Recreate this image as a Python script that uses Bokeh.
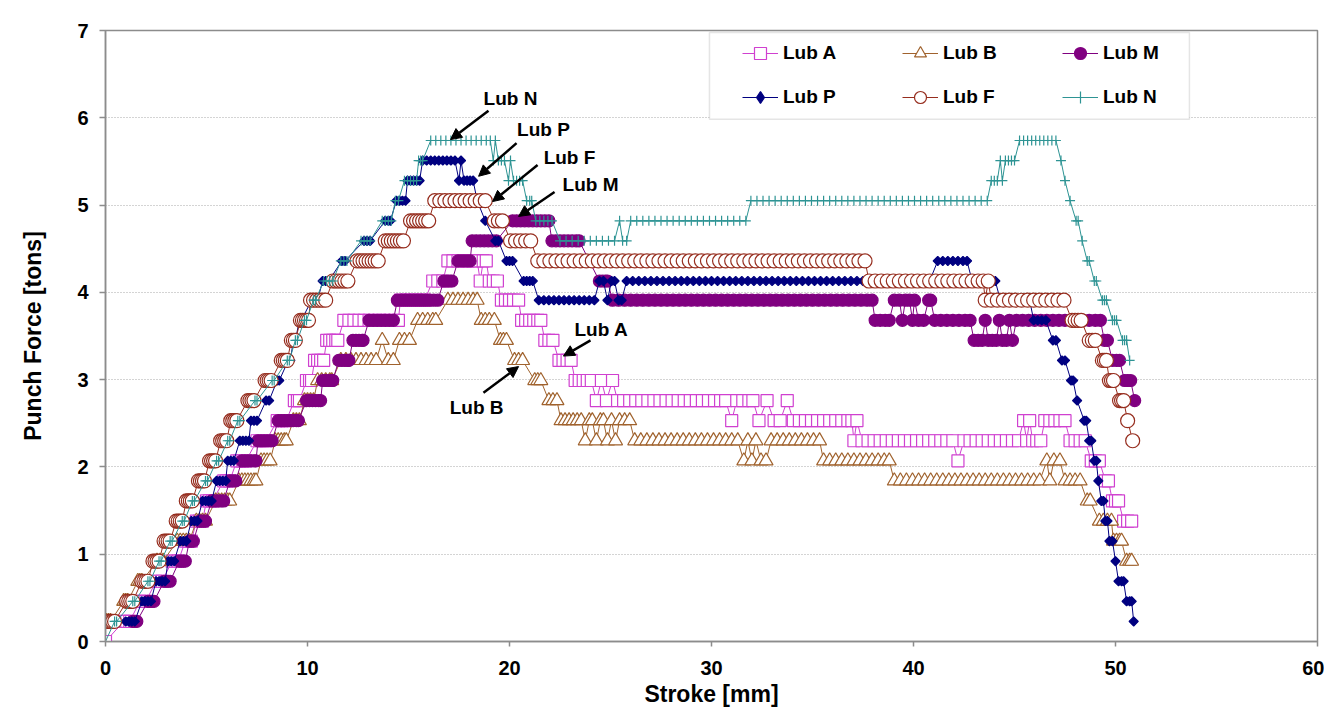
from math import pi
from bokeh.plotting import figure
from bokeh.models import (Range1d, FixedTicker, Legend, LegendItem, BoxAnnotation,
                          Label, Arrow, NormalHead)
from bokeh.embed import file_html
from bokeh.resources import INLINE

FONT = "Liberation Sans"

# Each series: runs of (punch force [tons], [stroke readings in mm at that force])
lub_a = [
    (0.00, [0.0]),
    (0.23, [0.9, 1.05, 1.2]),
    (0.46, [1.7, 1.85, 2.0]),
    (0.69, [2.5, 2.65, 2.8]),
    (0.92, [3.3, 3.45, 3.6]),
    (1.15, [3.95, 4.1, 4.25]),
    (1.38, [4.5, 4.65, 4.8]),
    (1.61, [5.0, 5.15, 5.3]),
    (1.84, [5.85, 6.0, 6.15]),
    (2.07, [6.5, 6.65, 6.8, 6.95]),
    (2.30, [7.5, 7.65, 7.8, 7.95]),
    (2.53, [8.5, 8.65, 8.8, 8.95]),
    (2.76, [9.35, 9.5, 9.6]),
    (2.99, [9.95, 10.1, 10.2]),
    (3.22, [10.35, 10.5, 10.65, 10.8]),
    (3.45, [10.95, 11.1, 11.25, 11.4, 11.5]),
    (3.68, [11.8, 12.05, 12.3, 12.55, 12.8, 13.05, 13.3, 13.55, 13.8, 14.05, 14.3, 14.5]),
    (3.91, [14.6, 14.85, 15.1, 15.35, 15.6, 15.8]),
    (4.13, [16.2, 16.45, 16.7]),
    (4.36, [16.95, 17.2, 17.45, 17.7, 17.95, 18.2, 18.4]),
    (4.13, [18.55]),
    (4.36, [18.7, 18.85]),
    (4.13, [19.0, 19.2, 19.4]),
    (3.91, [19.6, 19.8, 20.0, 20.2, 20.45]),
    (3.68, [20.6, 20.8, 21.0, 21.2, 21.4, 21.55]),
    (3.45, [21.75, 21.95, 22.15]),
    (3.22, [22.45, 22.65, 22.85, 23.05]),
    (2.99, [23.25, 23.45, 23.65, 23.85, 24.05]),
    (2.76, [24.3]),
    (2.99, [24.55]),
    (2.76, [24.8]),
    (2.99, [25.1]),
    (2.76, [25.35, 25.65, 25.95, 26.25, 26.55, 26.85, 27.15, 27.45, 27.75, 28.05, 28.35,
            28.65, 28.95, 29.25, 29.55, 29.85, 30.15, 30.45, 30.7]),
    (2.53, [31.0]),
    (2.76, [31.25, 31.55, 31.85, 32.05]),
    (2.53, [32.35]),
    (2.76, [32.75]),
    (2.53, [33.1, 33.4]),
    (2.76, [33.75]),
    (2.53, [34.05, 34.35, 34.65, 34.95, 35.25, 35.55, 35.85, 36.15, 36.45, 36.75, 36.95]),
    (2.30, [37.05]),
    (2.53, [37.2]),
    (2.30, [37.45, 37.75, 38.05, 38.35, 38.65, 38.95, 39.25, 39.55, 39.85, 40.15, 40.45,
            40.75, 41.05, 41.35, 41.65, 41.95]),
    (2.07, [42.2]),
    (2.30, [42.5, 42.8, 43.1, 43.4, 43.7, 44.0, 44.3, 44.6, 44.9, 45.2]),
    (2.53, [45.45]),
    (2.30, [45.6]),
    (2.53, [45.75]),
    (2.30, [45.9, 46.1, 46.3]),
    (2.53, [46.5, 46.75, 47.0, 47.25, 47.5]),
    (2.30, [47.75, 48.0, 48.25, 48.5]),
    (2.07, [48.8, 49.0, 49.2]),
    (1.84, [49.5, 49.65]),
    (1.61, [49.85, 50.0, 50.15]),
    (1.38, [50.4, 50.6, 50.8]),
]

lub_b = [
    (0.23, [0.05, 0.15, 0.25]),
    (0.46, [0.9, 1.0, 1.1]),
    (0.69, [1.6, 1.7, 1.8]),
    (0.92, [2.55, 2.7, 2.85]),
    (1.15, [3.55, 3.7, 3.85, 4.0, 4.15]),
    (1.38, [4.5, 4.65, 4.8, 4.95]),
    (1.61, [5.45, 5.6, 5.75, 5.9, 6.05, 6.15]),
    (1.84, [6.6, 6.75, 6.9, 7.05, 7.2, 7.35, 7.45]),
    (2.07, [7.7, 7.85, 8.0, 8.15]),
    (2.30, [8.4, 8.55, 8.7, 8.85, 8.95]),
    (2.53, [9.3, 9.45, 9.6]),
    (2.76, [9.85, 10.0, 10.15, 10.3]),
    (2.99, [10.5, 10.7, 10.9, 11.1, 11.2]),
    (3.22, [11.65, 11.9, 12.15, 12.4, 12.65, 12.9, 13.15, 13.4]),
    (3.45, [13.7]),
    (3.22, [14.0, 14.25]),
    (3.45, [14.55, 14.8, 15.05]),
    (3.68, [15.45, 15.7, 15.95, 16.2, 16.35]),
    (3.91, [16.95, 17.2, 17.45, 17.7, 17.95, 18.2, 18.4]),
    (3.68, [18.6, 18.8, 19.0, 19.25]),
    (3.45, [19.55, 19.7, 19.85]),
    (3.22, [20.25, 20.45, 20.65]),
    (2.99, [21.25, 21.4, 21.55]),
    (2.76, [21.95, 22.15, 22.35]),
    (2.53, [22.55, 22.75, 22.95, 23.15, 23.35, 23.55]),
    (2.30, [23.75]),
    (2.53, [23.95, 24.1]),
    (2.30, [24.3]),
    (2.53, [24.5, 24.65]),
    (2.30, [24.85]),
    (2.53, [25.05]),
    (2.30, [25.25]),
    (2.53, [25.45, 25.7, 25.95]),
    (2.30, [26.2, 26.5, 26.8, 27.1, 27.4, 27.7, 28.0, 28.3, 28.6, 28.9, 29.2, 29.5, 29.8,
            30.1, 30.4, 30.7, 31.0, 31.3]),
    (2.07, [31.6]),
    (2.30, [31.8]),
    (2.07, [32.0]),
    (2.30, [32.2]),
    (2.07, [32.45, 32.7]),
    (2.30, [32.95, 33.25, 33.55, 33.85, 34.15, 34.45, 34.75, 35.05, 35.35]),
    (2.07, [35.55, 35.85, 36.15, 36.45, 36.75, 37.05, 37.35, 37.65, 37.95, 38.25, 38.55, 38.8]),
    (1.84, [39.05, 39.35, 39.65, 39.95, 40.25, 40.55, 40.85, 41.15, 41.45, 41.75, 42.05,
            42.35, 42.65, 42.95, 43.25, 43.55, 43.85, 44.15, 44.45, 44.75, 45.05, 45.35,
            45.65, 45.95, 46.25]),
    (2.07, [46.6]),
    (1.84, [46.75]),
    (2.07, [46.95, 47.25]),
    (1.84, [47.5, 47.75, 48.0, 48.25]),
    (1.61, [48.6, 48.75]),
    (1.38, [49.2, 49.4, 49.6, 49.8]),
    (1.15, [49.9, 50.05, 50.2, 50.3]),
    (0.92, [50.55, 50.7, 50.8]),
]

lub_m = [
    (0.23, [1.35, 1.45, 1.55]),
    (0.46, [2.1, 2.2, 2.3, 2.4]),
    (0.69, [2.9, 3.0, 3.1, 3.2]),
    (0.92, [3.65, 3.75, 3.85, 3.95]),
    (1.15, [4.15, 4.25, 4.35]),
    (1.38, [4.65, 4.75, 4.85, 4.95]),
    (1.61, [5.25, 5.4, 5.55, 5.7, 5.85]),
    (1.84, [6.15, 6.3, 6.45]),
    (2.07, [6.75, 6.9, 7.05, 7.2, 7.35, 7.45]),
    (2.30, [7.55, 7.7, 7.85, 8.0, 8.15, 8.25]),
    (2.53, [8.55, 8.7, 8.85, 9.0, 9.15, 9.3, 9.45, 9.55]),
    (2.76, [9.95, 10.1, 10.25, 10.4, 10.55, 10.65]),
    (2.99, [10.75, 10.9, 11.05, 11.2, 11.25]),
    (3.22, [11.55, 11.7, 11.85, 12.0, 12.05]),
    (3.45, [12.25, 12.4, 12.55, 12.7, 12.75]),
    (3.68, [13.05, 13.25, 13.45, 13.65, 13.85, 14.05, 14.25]),
    (3.91, [14.45, 14.65, 14.85, 15.05, 15.25, 15.45, 15.65, 15.85, 16.05, 16.25, 16.45]),
    (4.13, [16.75, 16.9, 17.05, 17.15]),
    (4.36, [17.45, 17.6, 17.75, 17.9, 18.05]),
    (4.59, [18.15, 18.35, 18.55, 18.75, 18.95, 19.15, 19.35]),
    (4.82, [20.15, 20.35, 20.55, 20.75, 20.95, 21.15, 21.35, 21.55, 21.75, 21.95]),
    (4.59, [22.1, 22.3, 22.5, 22.7, 22.9, 23.1, 23.3, 23.45]),
    (4.36, [23.95]),
    (4.13, [24.45, 24.6, 24.75, 24.85]),
    (3.91, [25.1, 25.4, 25.7, 26.0, 26.3, 26.6, 26.9, 27.2, 27.5, 27.8, 28.1, 28.4, 28.7,
            29.0, 29.3, 29.6, 29.9, 30.2, 30.5, 30.8, 31.1, 31.4, 31.7, 32.0, 32.3, 32.6,
            32.9, 33.2, 33.5, 33.8, 34.1, 34.4, 34.7, 35.0, 35.3, 35.6, 35.9, 36.2, 36.5,
            36.8, 37.1, 37.4, 37.7, 37.95]),
    (3.68, [38.1, 38.35, 38.6, 38.8]),
    (3.91, [39.05, 39.3]),
    (3.68, [39.45]),
    (3.91, [39.6, 39.8]),
    (3.68, [39.95]),
    (3.91, [40.05]),
    (3.68, [40.25, 40.5]),
    (3.91, [40.75, 40.85]),
    (3.68, [41.05, 41.35, 41.65, 41.95, 42.25, 42.55, 42.8]),
    (3.45, [43.0, 43.2, 43.4]),
    (3.68, [43.55]),
    (3.45, [43.7, 43.9, 44.1]),
    (3.68, [44.25]),
    (3.45, [44.4, 44.6]),
    (3.68, [44.75]),
    (3.45, [44.9]),
    (3.68, [45.1, 45.4, 45.7, 46.0, 46.3, 46.6, 46.9, 47.2, 47.5, 47.8, 48.1, 48.4, 48.7,
            49.0, 49.25]),
    (3.45, [49.45, 49.6]),
    (3.22, [49.85, 50.05, 50.2]),
    (2.99, [50.45, 50.6, 50.75]),
    (2.76, [50.95]),
]

lub_p = [
    (0.23, [1.0, 1.15, 1.3, 1.45]),
    (0.46, [1.8, 1.95, 2.1, 2.25]),
    (0.69, [2.5, 2.65, 2.8, 2.95]),
    (0.92, [3.1, 3.25, 3.4]),
    (1.15, [3.7, 3.85, 4.0]),
    (1.38, [4.25, 4.4, 4.55]),
    (1.61, [4.8, 4.95, 5.1, 5.25]),
    (1.84, [5.5, 5.65, 5.8, 5.95]),
    (2.07, [6.05, 6.2, 6.35]),
    (2.30, [6.65, 6.8, 6.95, 7.1]),
    (2.53, [7.2, 7.35, 7.5]),
    (2.76, [7.95, 8.1]),
    (2.99, [8.5, 8.6]),
    (3.22, [9.05, 9.15]),
    (3.45, [9.3, 9.4]),
    (3.68, [9.6, 9.7]),
    (3.91, [10.2, 10.35, 10.5]),
    (4.13, [10.75, 10.9, 11.05]),
    (4.36, [11.7, 11.85]),
    (4.59, [12.8, 12.95, 13.1]),
    (4.82, [13.85, 14.0, 14.1]),
    (5.05, [14.4, 14.55, 14.7, 14.85]),
    (5.28, [14.95, 15.1, 15.25, 15.4, 15.55]),
    (5.51, [15.7, 15.9, 16.1, 16.3, 16.5, 16.7, 16.9, 17.1, 17.3]),
    (5.28, [17.5]),
    (5.51, [17.6]),
    (5.28, [17.75, 17.9, 18.05, 18.2]),
    (5.05, [18.4]),
    (4.82, [18.8]),
    (4.59, [19.3, 19.45]),
    (4.36, [19.85, 20.0, 20.15]),
    (4.13, [20.7, 20.85, 21.0, 21.15]),
    (3.91, [21.45, 21.7, 21.95, 22.2, 22.45, 22.7, 22.95, 23.2, 23.45, 23.7, 23.95, 24.2]),
    (4.13, [24.45, 24.65]),
    (3.91, [24.85]),
    (4.13, [25.05, 25.2]),
    (3.91, [25.4, 25.55]),
    (4.13, [25.8, 26.1, 26.4, 26.7, 27.0, 27.3, 27.6, 27.9, 28.2, 28.5, 28.8, 29.1, 29.4,
            29.7, 30.0, 30.3, 30.6, 30.9, 31.2, 31.5, 31.8, 32.1, 32.4, 32.7, 33.0, 33.3,
            33.6, 33.9, 34.2, 34.5, 34.8, 35.1, 35.4, 35.7, 36.0, 36.3, 36.6, 36.9, 37.2,
            37.5, 37.8, 38.1, 38.4, 38.7, 39.0, 39.3, 39.6, 39.9, 40.2, 40.5, 40.8]),
    (4.36, [41.2, 41.45, 41.7, 41.95, 42.2, 42.45, 42.65]),
    (4.13, [42.9, 43.2, 43.5, 43.8, 44.05]),
    (3.91, [44.3, 44.6, 44.9, 45.2, 45.5, 45.75]),
    (3.68, [45.95, 46.15, 46.35, 46.55]),
    (3.45, [46.9, 47.05]),
    (3.22, [47.35, 47.5]),
    (2.99, [47.8, 47.9]),
    (2.76, [48.1]),
    (2.53, [48.45, 48.55]),
    (2.30, [48.7, 48.8]),
    (2.07, [48.95, 49.05]),
    (1.84, [49.15]),
    (1.61, [49.3, 49.4]),
    (1.38, [49.5, 49.6]),
    (1.15, [49.7, 49.85]),
    (0.92, [50.0]),
    (0.69, [50.15, 50.3, 50.4]),
    (0.46, [50.55, 50.7, 50.8]),
    (0.23, [50.9]),
]

lub_f = [
    (0.23, [0.15, 0.25, 0.35, 0.45]),
    (0.46, [1.05, 1.15, 1.25, 1.35]),
    (0.69, [1.8, 1.9, 2.0, 2.1]),
    (0.92, [2.35, 2.45, 2.55, 2.65]),
    (1.15, [2.9, 3.0, 3.1, 3.2]),
    (1.38, [3.5, 3.6, 3.7, 3.8]),
    (1.61, [4.0, 4.1, 4.2, 4.3]),
    (1.84, [4.6, 4.7, 4.8, 4.9]),
    (2.07, [5.15, 5.25, 5.35, 5.45]),
    (2.30, [5.7, 5.8, 5.9, 6.0]),
    (2.53, [6.2, 6.3, 6.4, 6.5]),
    (2.76, [7.05, 7.15, 7.25, 7.35]),
    (2.99, [7.9, 8.0, 8.1, 8.2]),
    (3.22, [8.7, 8.8, 8.9, 9.0]),
    (3.45, [9.2, 9.3, 9.4]),
    (3.68, [9.65, 9.75, 9.85, 9.95, 10.05]),
    (3.91, [10.15, 10.3, 10.45, 10.6, 10.75, 10.9]),
    (4.13, [11.25, 11.4, 11.55, 11.7, 11.85, 12.0]),
    (4.36, [12.45, 12.6, 12.75, 12.9, 13.05, 13.2, 13.35, 13.5]),
    (4.59, [13.85, 14.0, 14.15, 14.3, 14.45, 14.6, 14.75]),
    (4.82, [15.1, 15.25, 15.4, 15.55, 15.7, 15.85, 16.0]),
    (5.05, [16.3, 16.55, 16.8, 17.05, 17.3, 17.55, 17.8, 18.05, 18.3, 18.55, 18.8]),
    (4.82, [19.25, 19.45, 19.65]),
    (4.59, [20.05, 20.3, 20.55, 20.8, 21.05]),
    (4.36, [21.4, 21.7, 22.0, 22.3, 22.6, 22.9, 23.2, 23.5, 23.8, 24.1, 24.4, 24.7, 25.0,
            25.3, 25.6, 25.9, 26.2, 26.5, 26.8, 27.1, 27.4, 27.7, 28.0, 28.3, 28.6, 28.9,
            29.2, 29.5, 29.8, 30.1, 30.4, 30.7, 31.0, 31.3, 31.6, 31.9, 32.2, 32.5, 32.8,
            33.1, 33.4, 33.7, 34.0, 34.3, 34.6, 34.9, 35.2, 35.5, 35.8, 36.1, 36.4, 36.7,
            37.0, 37.3, 37.6]),
    (4.13, [37.8, 38.1, 38.4, 38.7, 39.0, 39.3, 39.6, 39.9, 40.2, 40.5, 40.8, 41.1, 41.4,
            41.7, 42.0, 42.3, 42.6, 42.9, 43.2, 43.45]),
    (3.91, [43.55]),
    (4.13, [43.7]),
    (3.91, [43.85, 44.15, 44.45, 44.75, 45.05, 45.35, 45.65, 45.95, 46.25, 46.55, 46.85,
            47.15, 47.45]),
    (3.68, [47.85, 48.0, 48.15, 48.3]),
    (3.45, [48.7, 48.85, 49.0]),
    (3.22, [49.35, 49.45, 49.55]),
    (2.99, [49.7, 49.8, 49.9]),
    (2.76, [50.2, 50.3, 50.4]),
    (2.53, [50.6]),
    (2.30, [50.85]),
]

lub_n = [
    (0.00, [0.0]),
    (0.23, [0.45, 0.55]),
    (0.46, [1.35, 1.45]),
    (0.69, [2.1, 2.2]),
    (0.92, [2.65, 2.75]),
    (1.15, [3.2, 3.3]),
    (1.38, [3.8, 3.9]),
    (1.61, [4.3, 4.4]),
    (1.84, [4.95, 5.05]),
    (2.07, [5.5, 5.6]),
    (2.30, [6.05, 6.15]),
    (2.53, [6.55, 6.65]),
    (2.76, [7.4, 7.5]),
    (2.99, [8.25, 8.35]),
    (3.22, [9.0, 9.1]),
    (3.45, [9.4, 9.5]),
    (3.68, [9.85, 9.95]),
    (3.91, [10.3, 10.4]),
    (4.13, [10.8, 10.95, 11.1, 11.25]),
    (4.36, [11.65, 11.8, 11.95]),
    (4.59, [12.65, 12.8, 12.95, 13.1]),
    (4.82, [13.7, 13.85, 14.0, 14.15]),
    (5.05, [14.35, 14.5]),
    (5.28, [14.8, 14.95, 15.1, 15.25, 15.4]),
    (5.51, [15.5, 15.6, 15.7]),
    (5.74, [16.1, 16.35, 16.6, 16.85, 17.1, 17.35, 17.6, 17.85, 18.1, 18.35, 18.6, 18.85, 19.05]),
    (5.51, [19.2]),
    (5.74, [19.3]),
    (5.51, [19.45, 19.6, 19.75]),
    (5.28, [19.95]),
    (5.51, [20.05]),
    (5.28, [20.2, 20.35, 20.5, 20.65]),
    (5.05, [20.85, 21.0, 21.1]),
    (4.82, [21.3, 21.5, 21.7, 21.9, 22.1]),
    (4.59, [22.5, 22.8, 23.1, 23.4, 23.7, 24.0, 24.3, 24.6, 24.9, 25.2]),
    (4.82, [25.45]),
    (4.59, [25.6, 25.8]),
    (4.82, [26.0, 26.3, 26.6, 26.9, 27.2, 27.5, 27.8, 28.1, 28.4, 28.7, 29.0, 29.3, 29.6,
            29.9, 30.2, 30.5, 30.8, 31.1, 31.4, 31.7]),
    (5.05, [31.95, 32.25, 32.55, 32.85, 33.15, 33.45, 33.75, 34.05, 34.35, 34.65, 34.95,
            35.25, 35.55, 35.85, 36.15, 36.45, 36.75, 37.05, 37.35, 37.65, 37.95, 38.25,
            38.55, 38.85, 39.15, 39.45, 39.75, 40.05, 40.35, 40.65, 40.95, 41.25, 41.55,
            41.85, 42.15, 42.45, 42.75, 43.05, 43.35, 43.65]),
    (5.28, [43.85, 44.0, 44.15]),
    (5.51, [44.3]),
    (5.28, [44.4]),
    (5.51, [44.55, 44.7, 44.85, 45.0]),
    (5.74, [45.25, 45.45, 45.65, 45.85, 46.05, 46.25, 46.45, 46.65, 46.85, 47.05]),
    (5.51, [47.3]),
    (5.28, [47.5]),
    (5.05, [47.75]),
    (4.82, [48.05, 48.15]),
    (4.59, [48.35]),
    (4.36, [48.6, 48.7]),
    (4.13, [48.95, 49.05]),
    (3.91, [49.35, 49.45, 49.55]),
    (3.68, [49.85, 49.95, 50.05]),
    (3.45, [50.35, 50.45, 50.55]),
    (3.22, [50.7]),
]

x_ticks = [0, 10, 20, 30, 40, 50, 60]
y_ticks = [0, 1, 2, 3, 4, 5, 6, 7]


def expand(runs):
    xs, ys = [], []
    for force, strokes in runs:
        for s in strokes:
            xs.append(s)
            ys.append(force)
    return xs, ys


p = figure(width=1324, height=709, x_range=Range1d(0, 60), y_range=Range1d(0, 7),
           output_backend="svg", toolbar_location=None,
           min_border_left=105, min_border_right=7, min_border_top=30, min_border_bottom=67)
p.background_fill_color = "white"
p.border_fill_color = "white"
p.outline_line_color = "#8c8c8c"
p.outline_line_width = 1.5

p.xgrid.visible = False
p.ygrid.grid_line_color = "#a8a8a8"
p.ygrid.grid_line_dash = "1 2"
p.ygrid.grid_line_width = 1

p.xaxis.ticker = FixedTicker(ticks=x_ticks)
p.yaxis.ticker = FixedTicker(ticks=y_ticks)
for ax in (p.xaxis[0], p.yaxis[0]):
    ax.axis_line_color = "#8c8c8c"
    ax.axis_line_width = 1.5
    ax.major_tick_line_color = "#8c8c8c"
    ax.major_tick_line_width = 1.5
    ax.minor_tick_line_color = None
    ax.major_label_text_font = FONT
    ax.major_label_text_font_size = "20px"
    ax.major_label_text_font_style = "bold"
    ax.major_label_text_color = "black"
    ax.axis_label_text_font = FONT
    ax.axis_label_text_font_size = "23px"
    ax.axis_label_text_font_style = "bold"
    ax.axis_label_text_color = "black"
p.xaxis.axis_label = "Stroke [mm]"
p.yaxis.axis_label = "Punch Force [tons]"
p.xaxis.major_tick_in = 0
p.xaxis.major_tick_out = 5
p.xaxis.major_label_standoff = 14
p.xaxis.axis_label_standoff = 3
p.yaxis.major_tick_in = 0
p.yaxis.major_tick_out = 6
p.yaxis.major_label_standoff = 11
p.yaxis.axis_label_standoff = 28

series = [
    ("Lub A", lub_a, "#D040D0", "square", 12, "white", 0.0, "square"),
    ("Lub B", lub_b, "#A0622D", "triangle", 14, "white", 0.0, "triangle"),
    ("Lub M", lub_m, "#800080", "circle", 12, "#800080", 0.0, "circle"),
    ("Lub P", lub_p, "#000080", "square", 6.5, "#000080", pi / 4, "diamond"),
    ("Lub F", lub_f, "#962D1E", "circle", 14, "white", 0.0, "circle"),
    ("Lub N", lub_n, "#2E9494", "cross", 10, None, 0.0, "cross"),
]

items = []
for name, runs, color, marker, size, fill, ang, leg_marker in series:
    xs, ys = expand(runs)
    lr = p.line(xs, ys, line_color=color, line_width=1)
    sr = p.scatter(xs, ys, marker=marker, size=size, line_color=color,
                   fill_color=fill, line_width=1.2, angle=ang)
    if leg_marker != marker:
        # stand-in glyph (outside the visible range) used only for the legend key
        sr = p.scatter([-10], [-10], marker=leg_marker, size=size, line_color=color,
                       fill_color=fill, line_width=1.2)
    items.append(LegendItem(label=name, renderers=[lr, sr]))

box = BoxAnnotation(left=29.9, right=53.66, bottom=5.982, top=6.977,
                    fill_color="white", fill_alpha=1.0,
                    line_color="#aaaaaa", line_width=1.5)
p.add_layout(box)

legend = Legend(items=items, location=(637, 529), orientation="horizontal", ncols=3,
                glyph_width=36, glyph_height=30, label_height=30, label_width=105,
                label_standoff=5, spacing=14, padding=0, margin=0,
                border_line_alpha=0, background_fill_alpha=0,
                label_text_font=FONT, label_text_font_size="19px",
                label_text_font_style="bold", label_text_color="black")
p.add_layout(legend)

annotations = [
    ("Lub N", 20.05, 6.22, 18.96, 6.08, 17.08, 5.75),
    ("Lub P", 21.68, 5.87, 20.35, 5.71, 18.47, 5.33),
    ("Lub F", 22.97, 5.55, 21.39, 5.46, 19.16, 5.04),
    ("Lub M", 24.01, 5.24, 22.23, 5.15, 20.45, 4.87),
    ("Lub A", 24.55, 3.57, 24.01, 3.45, 22.67, 3.27),
    ("Lub B", 18.37, 2.68, 18.71, 2.85, 20.45, 3.15),
]
for txt, tx, ty, x0, y0, x1, y1 in annotations:
    p.add_layout(Arrow(end=NormalHead(size=11, fill_color="black", line_color="black"),
                       x_start=x0, y_start=y0, x_end=x1, y_end=y1,
                       line_color="black", line_width=2.5))
    p.add_layout(Label(x=tx, y=ty, text=txt, text_font=FONT, text_font_size="19px",
                       text_font_style="bold", text_color="black",
                       text_align="center", text_baseline="middle"))

open("out.html", "w").write(file_html(p, INLINE))
